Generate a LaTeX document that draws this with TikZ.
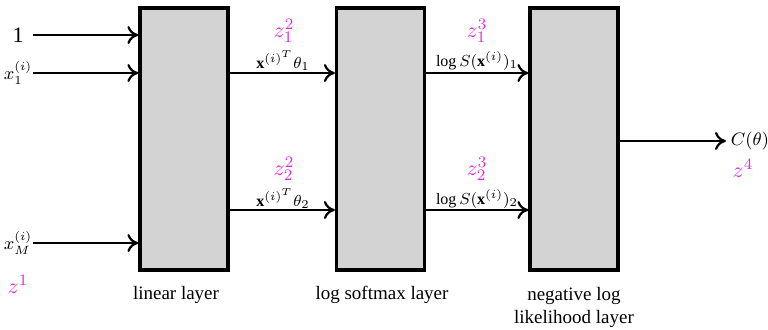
\documentclass[tikz,border=0pt]{standalone}
\usepackage{fontspec}
\setmainfont{Liberation Serif}
\usetikzlibrary{arrows.meta}
\definecolor{boxgray}{RGB}{211,211,211}
\definecolor{zmag}{RGB}{225,40,225}
\begin{document}
\begin{tikzpicture}[x=0.5pt,y=-0.5pt,
  layerbox/.style={draw=black,line width=1.6pt,fill=boxgray,minimum width=44pt,minimum height=131pt,inner sep=0pt},
  conn/.style={line width=1.2pt,-{To[length=5.5pt,width=9pt,line width=1.1pt]}},
  zlab/.style={text=zmag,font=\fontsize{11}{13}\selectfont,inner sep=0pt},
  mlab/.style={font=\fontsize{8}{10}\selectfont,inner sep=0pt},
  inlab/.style={font=\fontsize{9}{11}\selectfont,inner sep=0pt},
  caption/.style={font=\fontsize{9.5}{11.5}\selectfont,align=center,inner sep=0pt}]
\useasboundingbox (0,0) rectangle (768,330);
% layers
\node[layerbox] (b1) at (184,139) {};
\node[layerbox] (b2) at (380.5,139) {};
\node[layerbox] (b3) at (574,139) {};
% inputs
\node[font=\fontsize{11}{13}\selectfont,inner sep=0pt] (in1) at (18,35) {1};
\node[inlab] (inx1) at (18,73) {$x_1^{(i)}$};
\node[inlab] (inxM) at (18,243) {$x_M^{(i)}$};
\node[zlab] (z1) at (18,284) {$z^1$};
\coordinate (s1) at (33,35);
\coordinate (s2) at (33,73);
\coordinate (s3) at (33,243);
\draw[conn] (s1) -- (s1 -| b1.west);
\draw[conn] (s2) -- (s2 -| b1.west);
\draw[conn] (s3) -- (s3 -| b1.west);
% linear -> softmax
\coordinate (a1) at (228,73);
\coordinate (a2) at (228,210);
\draw[conn] (a1 -| b1.east) -- (a1 -| b2.west);
\draw[conn] (a2 -| b1.east) -- (a2 -| b2.west);
\node[mlab] (l1) at (283,61) {$\mathbf{x}^{(i)^T}\theta_1$};
\node[zlab] (z21) at (284,31) {$z_1^2$};
\node[mlab] (l2) at (283,199) {$\mathbf{x}^{(i)^T}\theta_2$};
\node[zlab] (z22) at (284,169) {$z_2^2$};
% softmax -> nll
\draw[conn] (a1 -| b2.east) -- (a1 -| b3.west);
\draw[conn] (a2 -| b2.east) -- (a2 -| b3.west);
\node[mlab] (l3) at (477,61) {$\log S(\mathbf{x}^{(i)})_1$};
\node[zlab] (z31) at (477,31) {$z_1^3$};
\node[mlab] (l4) at (477,199) {$\log S(\mathbf{x}^{(i)})_2$};
\node[zlab] (z32) at (477,169) {$z_2^3$};
% output
\coordinate (o1) at (726,141);
\draw[conn] (o1 -| b3.east) -- (o1);
\node[inlab] (out) at (750,141) {$C(\theta)$};
\node[zlab] (z4) at (743,168) {$z^4$};
% captions
\node[caption] (c1) at (176,295) {linear layer};
\node[caption] (c2) at (382,295) {log softmax layer};
\node[caption] (c3) at (574,307) {negative log\\likelihood layer};
\end{tikzpicture}
\end{document}
